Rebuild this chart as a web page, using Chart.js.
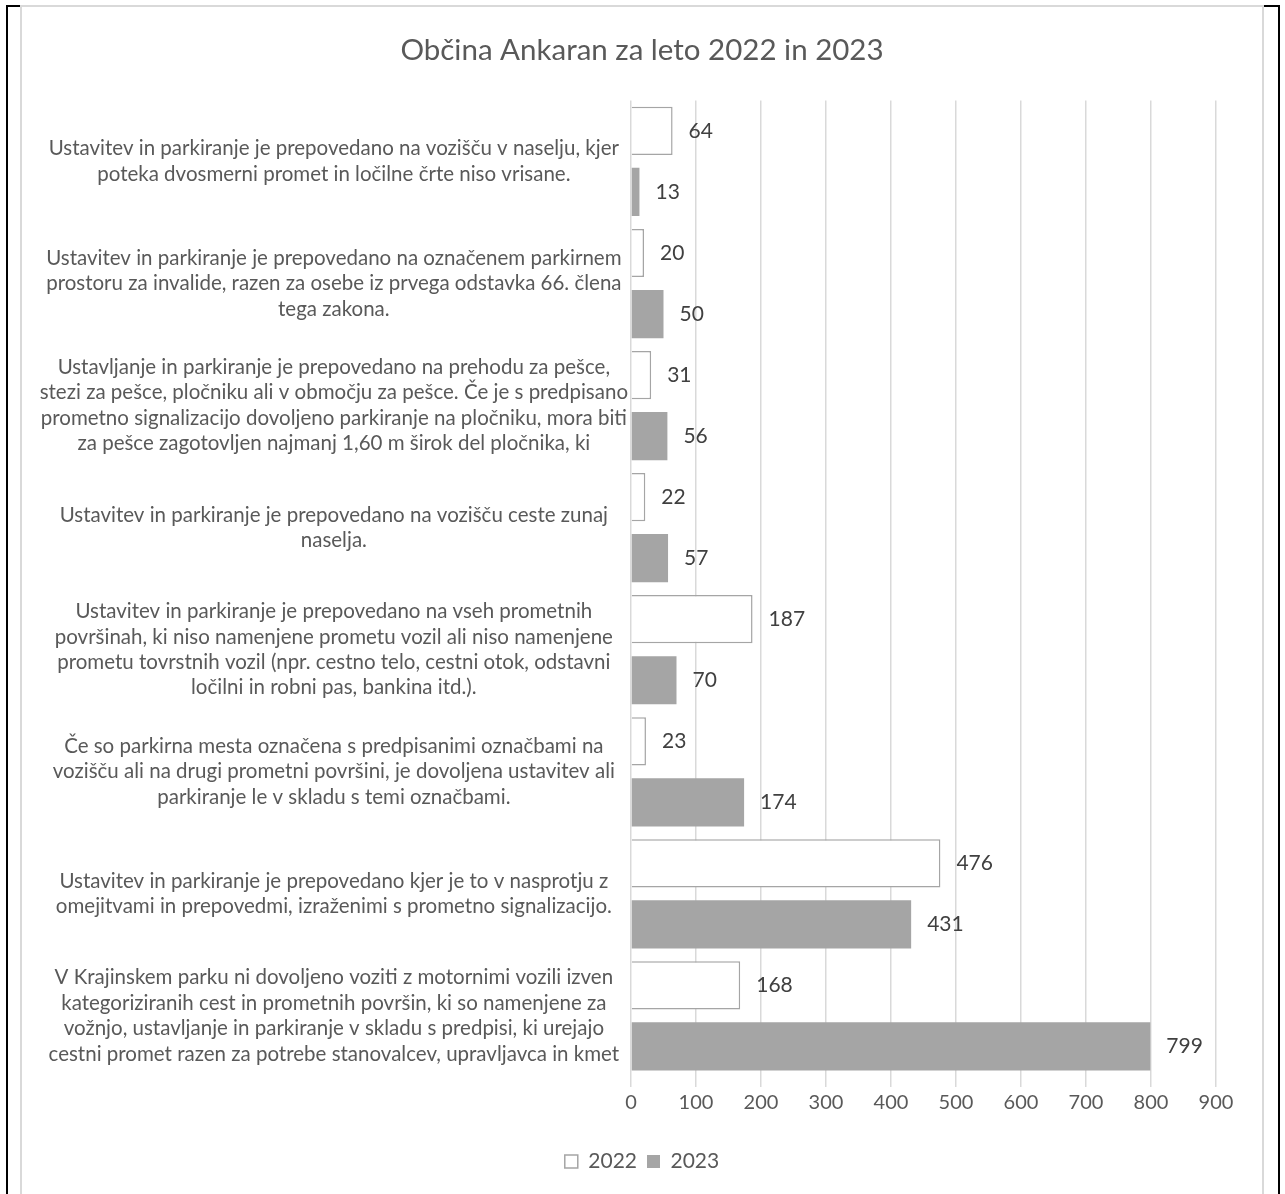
<!DOCTYPE html>
<html>
<head>
<meta charset="utf-8">
<script src="https://cdn.jsdelivr.net/npm/chart.js@4"></script>
<style>
  html, body { margin: 0; padding: 0; background: #fff; }
  #outer { position: absolute; left: 6px; top: 5px; width: 1270px; height: 1200px; border: 2px solid #000; border-bottom: none; }
  #inner { position: absolute; left: 20px; top: 5px; width: 1240px; height: 1200px; border: 2px solid #d9d9d9; border-bottom: none; background: #fff; }
  #chart { position: absolute; left: 22px; top: 7px; }
</style>
</head>
<body>
<div id="outer"></div>
<div id="inner"></div>
<canvas id="chart" width="1240" height="1187"></canvas>
<script>
const categories = [
  ["Ustavitev in parkiranje je prepovedano na vozišču v naselju, kjer", "poteka dvosmerni promet in ločilne črte niso vrisane."],
  ["Ustavitev in parkiranje je prepovedano na označenem parkirnem", "prostoru za invalide, razen za osebe iz prvega odstavka 66. člena", "tega zakona."],
  ["Ustavljanje in parkiranje je prepovedano na prehodu za pešce,", "stezi za pešce, pločniku ali v območju za pešce. Če je s predpisano", "prometno signalizacijo dovoljeno parkiranje na pločniku, mora biti", "za pešce zagotovljen najmanj 1,60 m širok del pločnika, ki"],
  ["Ustavitev in parkiranje je prepovedano na vozišču ceste zunaj", "naselja."],
  ["Ustavitev in parkiranje je prepovedano na vseh prometnih", "površinah, ki niso namenjene prometu vozil ali niso namenjene", "prometu tovrstnih vozil (npr. cestno telo, cestni otok, odstavni", "ločilni in robni pas, bankina itd.)."],
  ["Če so parkirna mesta označena s predpisanimi označbami na", "vozišču ali na drugi prometni površini, je dovoljena ustavitev ali", "parkiranje le v skladu s temi označbami."],
  ["Ustavitev in parkiranje je prepovedano kjer je to v nasprotju z", "omejitvami in prepovedmi, izraženimi s prometno signalizacijo."],
  ["V Krajinskem parku ni dovoljeno voziti z motornimi vozili izven", "kategoriziranih cest in prometnih površin, ki so namenjene za", "vožnjo, ustavljanje in parkiranje v skladu s predpisi, ki urejajo", "cestni promet razen za potrebe stanovalcev, upravljavca in kmet"]
];
const values2022 = [64, 20, 31, 22, 187, 23, 476, 168];
const values2023 = [13, 50, 56, 57, 70, 174, 431, 799];
const xTicks = [0, 100, 200, 300, 400, 500, 600, 700, 800, 900];

const FONT = "Lato";

// value labels at the end of each bar
const valueLabels = {
  id: "valueLabels",
  afterDatasetsDraw(chart) {
    const ctx = chart.ctx;
    ctx.save();
    ctx.font = "21px " + FONT;
    ctx.fillStyle = "#404040";
    ctx.textBaseline = "middle";
    chart.data.datasets.forEach((ds, i) => {
      chart.getDatasetMeta(i).data.forEach((bar, j) => {
        ctx.fillText(String(ds.data[j]), bar.x + 16, bar.y);
      });
    });
    ctx.restore();
  }
};

new Chart(document.getElementById("chart"), {
  type: "bar",
  data: {
    labels: categories,
    datasets: [
      { label: "2022", data: values2022, backgroundColor: "#ffffff", borderColor: "#a5a5a5", borderWidth: 1.5 },
      { label: "2023", data: values2023, backgroundColor: "#a5a5a5", borderWidth: 0 }
    ]
  },
  options: {
    indexAxis: "y",
    responsive: false,
    animation: false,
    categoryPercentage: 1,
    barPercentage: 0.79,
    layout: { padding: { left: 0, right: 0, top: 0, bottom: 12 } },
    plugins: {
      title: {
        display: true,
        text: "Občina Ankaran za leto 2022 in 2023",
        color: "#595959",
        font: { family: FONT, size: 29.5, weight: "normal" },
        padding: { top: 26, bottom: 32 }
      },
      legend: {
        position: "bottom",
        labels: {
          color: "#595959",
          font: { family: FONT, size: 21 },
          boxWidth: 13,
          boxHeight: 13,
          padding: 10
        }
      },
      tooltip: { enabled: false }
    },
    scales: {
      x: {
        min: 0,
        max: 900,
        afterBuildTicks: s => { s.ticks = xTicks.map(v => ({ value: v })); },
        afterFit: s => { s.height = 64; },
        grid: { color: "#d9d9d9", lineWidth: 1.5, tickLength: 10, drawTicks: true },
        border: { display: false },
        ticks: { color: "#595959", font: { family: FONT, size: 20 }, padding: 4 }
      },
      y: {
        afterFit: s => { s.width = 609; },
        grid: { display: false, drawTicks: false },
        border: { display: false },
        ticks: {
          autoSkip: false,
          crossAlign: "center",
          padding: 3,
          color: "#595959",
          font: { family: FONT, size: 20.5, lineHeight: 1.24 }
        }
      },
      // empty right-hand spacer so the plot ends where the reference does
      yRight: {
        type: "linear",
        position: "right",
        afterFit: s => { s.width = 46; },
        grid: { display: false, drawTicks: false },
        border: { display: false },
        ticks: { display: false }
      }
    }
  },
  plugins: [valueLabels]
});
</script>
</body>
</html>
